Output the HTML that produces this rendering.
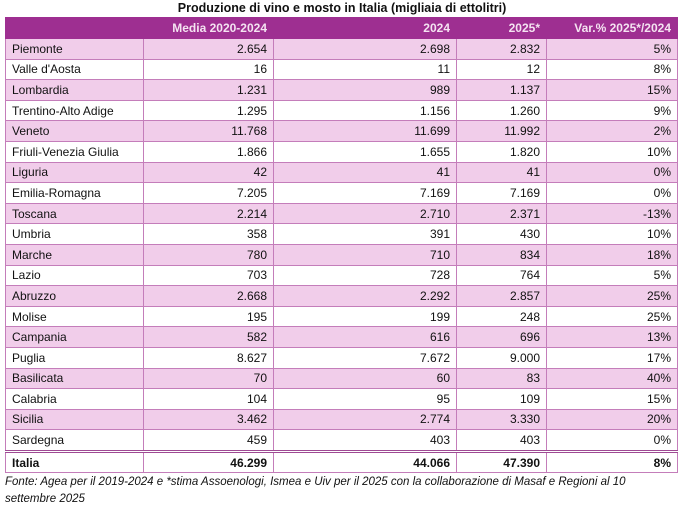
<!DOCTYPE html>
<html><head><meta charset="utf-8"><style>
html,body{margin:0;padding:0;background:#fff;width:684px;height:510px;overflow:hidden}
body{font-family:"Liberation Sans",sans-serif;color:#111}
.title{position:absolute;left:0;top:0;width:684px;text-align:center;font-weight:bold;font-size:12.5px;line-height:16px}
table{position:absolute;left:5px;top:17px;border-collapse:collapse;width:672px;font-size:12px;table-layout:fixed}
td,th{border:1px solid #c47dba;height:19.6px;padding:0 6px;text-align:right;line-height:18px;white-space:nowrap;overflow:hidden}
th{background:#9e2f91;color:#f4e3f1;font-weight:bold;height:20px;border-color:#9e2f91}
td:first-child{text-align:left}
tr.p td{background:#f1cdea}
tr.t td{font-weight:bold;border-top:3px double #9e4a93}
.f{position:absolute;left:5px;top:474px;font-style:italic;font-size:11.5px;line-height:16.5px;width:700px;white-space:nowrap}
</style></head><body>
<div class="title">Produzione di vino e mosto in Italia (migliaia di ettolitri)</div>
<table>
<colgroup><col style="width:138px"><col style="width:130px"><col style="width:183px"><col style="width:90px"><col style="width:131px"></colgroup>
<tr><th></th><th>Media 2020-2024</th><th>2024</th><th>2025*</th><th>Var.% 2025*/2024</th></tr>
<tr class="p"><td>Piemonte</td><td>2.654</td><td>2.698</td><td>2.832</td><td>5%</td></tr>
<tr><td>Valle d'Aosta</td><td>16</td><td>11</td><td>12</td><td>8%</td></tr>
<tr class="p"><td>Lombardia</td><td>1.231</td><td>989</td><td>1.137</td><td>15%</td></tr>
<tr><td>Trentino-Alto Adige</td><td>1.295</td><td>1.156</td><td>1.260</td><td>9%</td></tr>
<tr class="p"><td>Veneto</td><td>11.768</td><td>11.699</td><td>11.992</td><td>2%</td></tr>
<tr><td>Friuli-Venezia Giulia</td><td>1.866</td><td>1.655</td><td>1.820</td><td>10%</td></tr>
<tr class="p"><td>Liguria</td><td>42</td><td>41</td><td>41</td><td>0%</td></tr>
<tr><td>Emilia-Romagna</td><td>7.205</td><td>7.169</td><td>7.169</td><td>0%</td></tr>
<tr class="p"><td>Toscana</td><td>2.214</td><td>2.710</td><td>2.371</td><td>-13%</td></tr>
<tr><td>Umbria</td><td>358</td><td>391</td><td>430</td><td>10%</td></tr>
<tr class="p"><td>Marche</td><td>780</td><td>710</td><td>834</td><td>18%</td></tr>
<tr><td>Lazio</td><td>703</td><td>728</td><td>764</td><td>5%</td></tr>
<tr class="p"><td>Abruzzo</td><td>2.668</td><td>2.292</td><td>2.857</td><td>25%</td></tr>
<tr><td>Molise</td><td>195</td><td>199</td><td>248</td><td>25%</td></tr>
<tr class="p"><td>Campania</td><td>582</td><td>616</td><td>696</td><td>13%</td></tr>
<tr><td>Puglia</td><td>8.627</td><td>7.672</td><td>9.000</td><td>17%</td></tr>
<tr class="p"><td>Basilicata</td><td>70</td><td>60</td><td>83</td><td>40%</td></tr>
<tr><td>Calabria</td><td>104</td><td>95</td><td>109</td><td>15%</td></tr>
<tr class="p"><td>Sicilia</td><td>3.462</td><td>2.774</td><td>3.330</td><td>20%</td></tr>
<tr><td>Sardegna</td><td>459</td><td>403</td><td>403</td><td>0%</td></tr>
<tr class="t"><td>Italia</td><td>46.299</td><td>44.066</td><td>47.390</td><td>8%</td></tr>
</table>
<div class="f">Fonte: Agea per il 2019-2024 e *stima Assoenologi, Ismea e Uiv per il 2025 con la collaborazione di Masaf e Regioni al 10<br>settembre 2025</div>
</body></html>
